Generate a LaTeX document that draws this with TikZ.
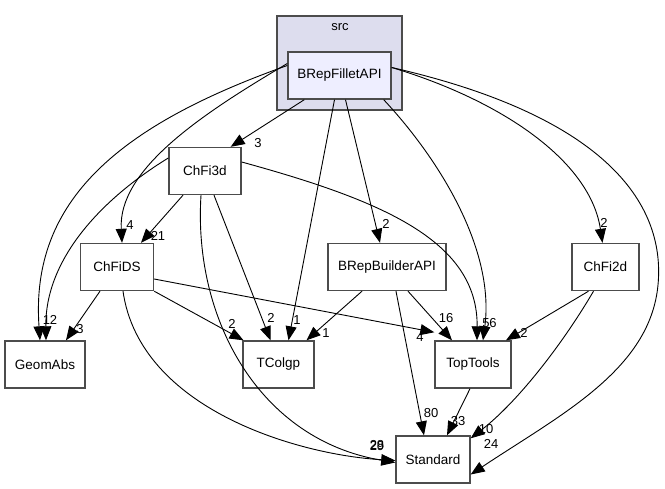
\documentclass[tikz,border=0pt]{standalone}
\usepackage{fontspec}
\setmainfont{Liberation Sans}
\usetikzlibrary{arrows.meta}
\begin{document}
\begin{tikzpicture}[x=1pt,y=-1pt,
  box/.style={draw=black!70,line width=1.4pt,fill=white,minimum height=47pt,inner sep=0pt,font=\fontsize{13.5}{15}\selectfont},
  dep/.style={draw=black,line width=0.9pt,arrows={-Triangle[length=14pt,width=11pt]}},
  lbl/.style={font=\fontsize{13}{15}\selectfont,inner sep=0pt}]
\useasboundingbox (0,0) rectangle (665,489);
% cluster
\node[draw=black!70,line width=1.4pt,fill={rgb,255:red,221;green,221;blue,238},minimum width=125pt,minimum height=94pt,inner sep=0pt] (src) at (339.5,63) {};
\node[font=\fontsize{13}{15}\selectfont] (srct) at (340,27) {src};
\node[box,fill={rgb,255:red,238;green,238;blue,255},minimum width=103pt] (bfa) at (339.5,75.5) {BRepFilletAPI};
% nodes
\node[box,minimum width=72pt] (c3) at (205,171) {ChFi3d};
\node[box,minimum width=73pt] (cds) at (117,267) {ChFiDS};
\node[box,minimum width=80pt] (ga) at (45,364.5) {GeomAbs};
\node[box,minimum width=71pt] (tc) at (278.5,364.5) {TColgp};
\node[box,minimum width=76pt] (tt) at (473,364.5) {TopTools};
\node[box,minimum width=74pt] (st) at (433,459.5) {Standard};
\node[box,minimum width=118pt] (bba) at (387,267) {BRepBuilderAPI};
\node[box,minimum width=67pt] (c2) at (605.5,267) {ChFi2d};
% edges from BRepFilletAPI
\draw[dep] ([xshift=17pt]bfa.south west) -- ([xshift=-11pt]c3.north east);
\draw[dep] ([xshift=-5pt]bfa.south) -- ([xshift=10pt]tc.north);
\draw[dep] ([xshift=6pt]bfa.south) -- ([xshift=-7pt]bba.north);
\draw[dep] ([yshift=10pt]bfa.west) .. controls (120,125) and (30,200) .. ([xshift=-5pt]ga.north);
\draw[dep] ([yshift=12pt]bfa.west) .. controls (200,115) and (118,170) .. ([xshift=5pt]cds.north);
\draw[dep] ([xshift=-8pt]bfa.south east) .. controls (440,160) and (495,250) .. ([xshift=10pt]tt.north);
\draw[dep] ([yshift=8pt]bfa.east) .. controls (500,100) and (590,160) .. ([xshift=-3pt]c2.north);
\draw[dep] ([yshift=8pt]bfa.east) .. controls (600,115) and (666,200) .. (658,285) .. controls (650,370) and (560,415) .. ([yshift=-15pt]st.east);
% ChFi3d
\draw[dep] ([xshift=-22pt]c3.south) -- ([xshift=24pt]cds.north);
\draw[dep] ([yshift=13pt]c3.west) .. controls (100,200) and (45,260) .. ([xshift=1pt]ga.north);
\draw[dep] ([xshift=9pt]c3.south) -- ([xshift=-8pt]tc.north);
\draw[dep] ([xshift=-4pt]c3.south) .. controls (193,320) and (260,440) .. ([yshift=-3pt]st.west);
\draw[dep] ([yshift=9pt]c3.east) .. controls (380,200) and (478,240) .. ([xshift=4pt]tt.north);
% ChFiDS
\draw[dep] ([xshift=-17pt]cds.south) -- ([xshift=21pt]ga.north);
\draw[dep] (cds.south east) -- ([xshift=-35pt]tc.north);
\draw[dep] ([yshift=-12pt]cds.east) -- ([yshift=8pt]tt.north west);
\draw[dep] ([xshift=6pt]cds.south) .. controls (140,410) and (300,455) .. ([yshift=-1pt]st.west);
% BRepBuilderAPI
\draw[dep] ([xshift=-25pt]bba.south) -- ([xshift=28pt]tc.north);
\draw[dep] ([xshift=21pt]bba.south) -- ([xshift=-21pt]tt.north);
\draw[dep] ([xshift=9pt]bba.south) -- ([xshift=-9pt]st.north);
% TopTools
\draw[dep] ([xshift=-3pt]tt.south) -- ([xshift=14pt]st.north);
% ChFi2d
\draw[dep] ([xshift=-17pt]c2.south) -- ([xshift=33pt]tt.north);
\draw[dep] ([xshift=-12pt]c2.south) .. controls (565,340) and (520,400) .. ([yshift=-3pt]st.north east);
% labels
\node[lbl] (l1) at (258,143) {3};
\node[lbl] (l2) at (297,320) {1};
\node[lbl] (l3) at (386,224) {2};
\node[lbl] (l4) at (486,323) {5};
\node[lbl] (l5) at (493,323) {6};
\node[lbl] (l6) at (604,223) {2};
\node[lbl] (l7) at (491,444) {24};
\node[lbl] (l8) at (50,320) {12};
\node[lbl] (l9) at (130,225) {4};
\node[lbl] (l10) at (158,236) {21};
\node[lbl] (l11) at (271,318) {2};
\node[lbl] (l12) at (80,329) {3};
\node[lbl] (l13) at (232,324) {2};
\node[lbl] (l14) at (420,337) {4};
\node[lbl] (l15) at (377,445) {28};
\node[lbl] (l16) at (377,446) {29};
\node[lbl] (l17) at (326,333) {1};
\node[lbl] (l18) at (446,318) {16};
\node[lbl] (l19) at (431,413) {80};
\node[lbl] (l20) at (458,421) {33};
\node[lbl] (l21) at (524,333) {2};
\node[lbl] (l22) at (486,429) {10};
\end{tikzpicture}
\end{document}
